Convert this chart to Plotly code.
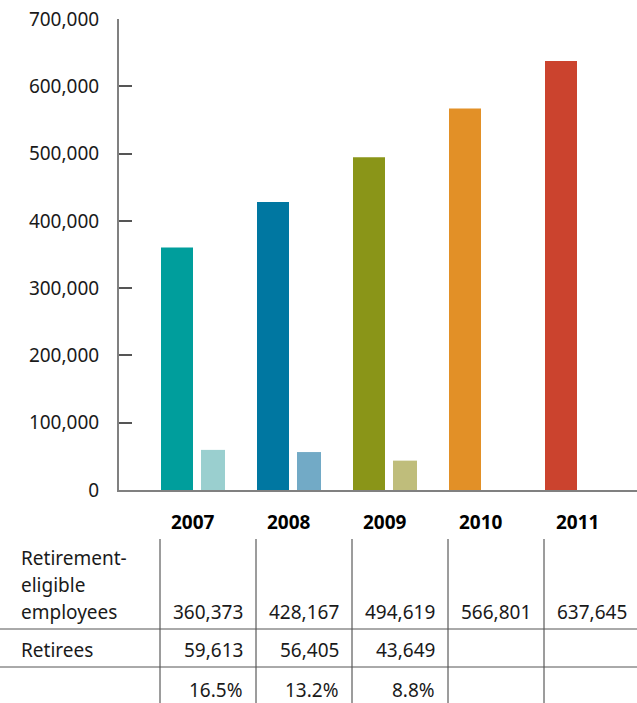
import plotly.graph_objects as go

years = ["2007", "2008", "2009", "2010", "2011"]
eligible = [360373, 428167, 494619, 566801, 637645]
retirees = [59613, 56405, 43649, None, None]
pct_labels = ["16.5%", "13.2%", "8.8%", "", ""]
row_label_lines = ["Retirement-", "eligible", "employees"]
row2_label = "Retirees"
y_ticks = [0, 100000, 200000, 300000, 400000, 500000, 600000, 700000]

main_colors = ["#009E9C", "#0077A1", "#8A9518", "#E29027", "#CB432E"]
light_colors = ["#9ACFCF", "#72AAC6", "#BFBD7B", "#ffffff", "#ffffff"]

W, H = 637, 703
PX = 96.0  # pixels per group
x_idx = list(range(len(years)))

FONT = "Noto Sans"
TXT = "#1a1a1a"
FS = 19

fig = go.Figure()
fig.add_bar(x=x_idx, y=eligible, marker_color=main_colors, marker_line_width=0,
            offset=-36 / PX, width=32 / PX, hoverinfo="skip")
fig.add_bar(x=x_idx, y=retirees, marker_color=light_colors, marker_line_width=0,
            offset=4 / PX, width=24 / PX, hoverinfo="skip")

plot_left, plot_right = 119, 637
plot_top, plot_bottom = 19, 490
ph = plot_bottom - plot_top
pw = plot_right - plot_left


def py(pix):
    return (plot_bottom - pix) / ph


def pxp(pix):
    return (pix - plot_left) / pw


def xpx(pix):
    return (pix - 197) / PX


ann = []
# year labels
for i, yr in enumerate(years):
    ann.append(dict(x=i - 4 / PX, y=py(522), xref="x", yref="paper", text="<b>" + yr + "</b>",
                    showarrow=False, xanchor="center", yanchor="middle",
                    font=dict(family=FONT, size=FS, color="#000")))
# row labels
for k, line in enumerate(row_label_lines):
    ann.append(dict(x=pxp(19), y=py(558 + 27 * k), xref="paper", yref="paper", text=line,
                    showarrow=False, xanchor="left", yanchor="middle",
                    font=dict(family=FONT, size=FS, color=TXT)))
ann.append(dict(x=pxp(19), y=py(650), xref="paper", yref="paper", text=row2_label,
                showarrow=False, xanchor="left", yanchor="middle",
                font=dict(family=FONT, size=FS, color=TXT)))
# values
for i in x_idx:
    rows = [(f"{eligible[i]:,}", 612),
            (f"{retirees[i]:,}" if retirees[i] is not None else "", 650),
            (pct_labels[i], 690)]
    for t, ypix in rows:
        if t:
            ann.append(dict(x=i + 0.5, y=py(ypix), xref="x", yref="paper", text=t,
                            showarrow=False, xanchor="right", yanchor="middle",
                            font=dict(family=FONT, size=FS, color=TXT)))

shapes = []
line_col = "#3a3a3a"
for i in x_idx:
    xv = i + (160 - 197) / PX
    shapes.append(dict(type="line", xref="x", yref="paper", x0=xv, x1=xv,
                       y0=py(539), y1=py(703), line=dict(color=line_col, width=1)))
for ypix in [629, 667]:
    shapes.append(dict(type="line", xref="paper", yref="paper", x0=pxp(0), x1=pxp(637),
                       y0=py(ypix), y1=py(ypix), line=dict(color="#555", width=1)))

fig.update_layout(
    width=W, height=H,
    margin=dict(l=plot_left, r=W - plot_right, t=plot_top, b=H - plot_bottom, pad=0),
    paper_bgcolor="white", plot_bgcolor="white",
    showlegend=False, barmode="overlay",
    annotations=ann, shapes=shapes,
    xaxis=dict(range=[xpx(plot_left), xpx(plot_right)], showticklabels=False, ticks="",
               showgrid=False, zeroline=False, showline=True, linecolor="#808080",
               linewidth=2, fixedrange=True),
    yaxis=dict(range=[0, 700000], tickvals=y_ticks,
               ticktext=[f"{v:,}" for v in y_ticks], ticks="inside", ticklen=13,
               tickcolor="#555", tickwidth=1.5, showgrid=False, zeroline=False,
               showline=True, linecolor="#808080", linewidth=2,
               tickfont=dict(family=FONT, size=FS, color=TXT), ticklabelstandoff=14,
               fixedrange=True),
)

fig.write_html("out.html", config={"displayModeBar": False})
